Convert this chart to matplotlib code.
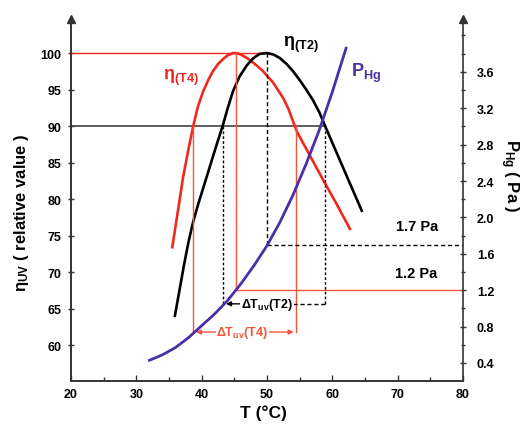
import matplotlib
matplotlib.use("Agg")
import matplotlib.pyplot as plt
from matplotlib.ticker import MultipleLocator

plt.rcParams['font.family'] = ['Liberation Sans', 'DejaVu Sans']
plt.rcParams['mathtext.fontset'] = 'custom'
plt.rcParams['mathtext.rm'] = 'Liberation Sans:bold'
plt.rcParams['mathtext.it'] = 'Liberation Sans:bold'
plt.rcParams['mathtext.bf'] = 'Liberation Sans:bold'

# ---- data ----
t_t4 = [35.5, 36.4, 37.1, 37.9, 38.7, 39.4, 40.2, 41.0, 41.7, 42.5, 43.3, 44.0,
        44.8, 45.3, 46.0, 46.8, 47.6, 48.4, 49.2, 50.0, 50.9, 51.7, 52.5, 53.3,
        54.0, 54.6, 56.6, 58.6, 60.6, 62.7]
eta_t4 = [73.4, 78.6, 82.7, 86.5, 90.0, 92.6, 94.7, 96.3, 97.5, 98.5, 99.2, 99.7,
          100.0, 100.0, 99.8, 99.4, 98.9, 98.3, 97.7, 96.9, 96.0, 94.9, 93.8, 92.3,
          90.6, 89.2, 85.9, 82.6, 79.4, 75.9]

t_t2 = [35.9, 36.6, 37.3, 38.0, 38.7, 39.5, 40.3, 41.2, 42.2, 43.2, 44.0, 44.8,
        45.8, 46.9, 47.9, 48.9, 50.0, 51.0, 52.0, 53.0, 54.0, 55.0, 56.0, 57.0,
        58.0, 58.9, 60.0, 61.5, 63.0, 64.5]
eta_t2 = [64.0, 67.5, 71.0, 74.2, 76.9, 79.4, 81.7, 84.3, 87.2, 90.0, 92.5, 94.8,
          96.8, 98.3, 99.3, 99.9, 100.0, 99.8, 99.3, 98.5, 97.5, 96.3, 95.0, 93.6,
          91.9, 90.0, 87.7, 84.6, 81.5, 78.4]

t_p = [32.0, 34.0, 36.0, 38.0, 40.0, 42.0, 44.0, 46.0, 48.0, 50.0, 52.0, 54.0,
       56.0, 58.0, 60.0, 62.1]
p_hg = [0.43, 0.49, 0.57, 0.68, 0.81, 0.94, 1.09, 1.27, 1.47, 1.69, 1.95, 2.25,
        2.59, 2.96, 3.38, 3.86]

x_ticks = [20, 30, 40, 50, 60, 70, 80]
eta_ticks = [60, 65, 70, 75, 80, 85, 90, 95, 100]
p_ticks = [0.4, 0.8, 1.2, 1.6, 2.0, 2.4, 2.8, 3.2, 3.6]
p_tick_labels = ['0.4', '0.8', '1.2', '1.6', '2.0', '2.4', '2.8', '3.2', '3.6']

# annotation values
t4_lo, t4_hi, t4_peak = 38.7, 54.5, 45.3
t2_lo, t2_hi, t2_peak = 43.3, 58.9, 50.0
p_t4, p_t2 = 1.2, 1.7
p_arrow_t4, p_arrow_t2 = 0.74, 1.05
eta_level, eta_max = 90, 100

RED = '#f0281e'
RED2 = '#f2553a'
BLUE = '#4a2fa8'
AXC = '#333333'

fig = plt.figure(figsize=(5.23, 4.27), dpi=100)
ax = fig.add_axes([0.1358, 0.1054, 0.7495, 0.8476])
ax2 = ax.twinx()

ylo1, yhi1 = 55.07, 104.66
ylo2, yhi2 = 0.202, 4.18
ax.set_xlim(20, 80)
ax.set_ylim(ylo1, yhi1)
ax2.set_ylim(ylo2, yhi2)

def eta_to_p(e):
    return ylo2 + (e - ylo1) * (yhi2 - ylo2) / (yhi1 - ylo1)

# curves
ax.plot(t_t4, eta_t4, color=RED, lw=1.9, zorder=5, solid_joinstyle='round')
ax.plot(t_t2, eta_t2, color='black', lw=1.9, zorder=5, solid_joinstyle='round')
ax2.plot(t_p, p_hg, color=BLUE, lw=2.0, zorder=5, solid_joinstyle='round')

# reference lines
ax.plot([20, 49.5], [eta_max, eta_max], color=RED, lw=1.0)
ax.plot([20, t2_hi], [eta_level, eta_level], color=AXC, lw=1.1)

# red verticals / 1.2 Pa line
ax2.plot([t4_peak, t4_peak], [eta_to_p(eta_max), p_t4], color=RED2, lw=1.0)
ax2.plot([t4_peak, 80], [p_t4, p_t4], color=RED2, lw=1.0)
ax2.plot([t4_lo, t4_lo], [eta_to_p(eta_level), p_arrow_t4], color=RED2, lw=1.0)
ax2.plot([t4_hi, t4_hi], [eta_to_p(eta_level), p_arrow_t4], color=RED2, lw=1.0)

# black dashed / 1.7 Pa line
ax2.plot([t2_peak, t2_peak], [eta_to_p(eta_max), p_t2], color='black', lw=1.0, ls=(0, (3, 2)))
ax2.plot([t2_peak, 80], [p_t2, p_t2], color='black', lw=1.0, ls=(0, (3, 2)))
ax2.plot([t2_lo, t2_lo], [eta_to_p(eta_level), p_arrow_t2], color='black', lw=1.0, ls=(0, (2, 1.5)))
ax2.plot([t2_hi, t2_hi], [eta_to_p(eta_level), p_arrow_t2], color='black', lw=1.0, ls=(0, (2, 1.5)))

# delta T arrows
ax2.annotate('', xy=(t2_lo, p_arrow_t2), xytext=(t2_lo + 3.0, p_arrow_t2),
             arrowprops=dict(arrowstyle='-|>', color='black', lw=1.0, mutation_scale=7))
ax2.plot([54.0, t2_hi], [p_arrow_t2, p_arrow_t2], color='black', lw=1.0, ls=(0, (3, 2)))
ax2.text(50.0, p_arrow_t2, r'$\Delta$T$_{\mathregular{uv}}$(T2)', ha='center', va='center',
         fontsize=9, fontweight='bold', color='black', zorder=6,
         bbox=dict(facecolor='white', edgecolor='none', pad=0.5))

ax2.annotate('', xy=(t4_lo, p_arrow_t4), xytext=(t4_lo + 4.3, p_arrow_t4),
             arrowprops=dict(arrowstyle='-|>', color=RED2, lw=1.0, mutation_scale=7))
ax2.annotate('', xy=(t4_hi, p_arrow_t4), xytext=(t4_hi - 4.8, p_arrow_t4),
             arrowprops=dict(arrowstyle='-|>', color=RED2, lw=1.0, mutation_scale=7))
ax2.text(46.2, p_arrow_t4, r'$\Delta$T$_{\mathregular{uv}}$(T4)', ha='center', va='center',
         fontsize=9, fontweight='bold', color=RED2, zorder=6,
         bbox=dict(facecolor='white', edgecolor='none', pad=0.5))

# labels on curves
ax.text(34.1, 96.7, r'η$_{\mathregular{(T4)}}$', color=RED, fontsize=13, fontweight='bold',
        ha='left', va='center')
ax.text(52.4, 101.3, r'η$_{\mathregular{(T2)}}$', color='black', fontsize=13, fontweight='bold',
        ha='left', va='center')
ax.text(62.8, 97.4, r'P$_{\mathregular{Hg}}$', color=BLUE, fontsize=13, fontweight='bold',
        ha='left', va='center')
ax2.text(73.0, 1.83, '1.7 Pa', fontsize=10.5, fontweight='bold', ha='center', va='bottom')
ax2.text(72.8, 1.31, '1.2 Pa', fontsize=10.5, fontweight='bold', ha='center', va='bottom')

# axes styling
for a in (ax, ax2):
    a.spines['top'].set_visible(False)
    for s in a.spines.values():
        s.set_linewidth(1.2)
        s.set_color(AXC)
ax.spines['right'].set_visible(False)

ax.set_xticks(x_ticks)
ax.xaxis.set_minor_locator(MultipleLocator(5))
ax.set_yticks(eta_ticks)
ax2.set_yticks(p_ticks)
ax2.set_yticklabels(p_tick_labels)
ax2.yaxis.set_minor_locator(MultipleLocator(0.2))
ax.tick_params(axis='x', direction='in', length=4, width=1, labelsize=9, pad=5, color=AXC)
ax.tick_params(axis='x', which='minor', direction='in', length=3, width=1, color=AXC)
ax.tick_params(axis='y', direction='inout', length=4, width=1, labelsize=9, pad=5, color=AXC)
ax2.tick_params(axis='y', direction='inout', length=4, width=1, labelsize=9, pad=8, color=AXC)
ax2.tick_params(axis='y', which='minor', direction='inout', length=3, width=1, color=AXC)
for lab in ax.get_xticklabels() + ax.get_yticklabels() + ax2.get_yticklabels():
    lab.set_fontweight('bold')

# arrows on top of vertical spines
ax.plot([0], [1], marker='^', color=AXC, markersize=5.5, transform=ax.transAxes, clip_on=False)
ax.plot([1], [1], marker='^', color=AXC, markersize=5.5, transform=ax.transAxes, clip_on=False)

# axis labels
fig.text(263 / 523, 1 - 413 / 427, 'T (°C)', ha='center', va='center', fontsize=12.5, fontweight='bold')
fig.text(22 / 523, 1 - 213 / 427, r'η$_{\mathregular{UV}}$ ( relative value )', rotation=90,
         ha='center', va='center', fontsize=12, fontweight='bold')
fig.text(509 / 523, 1 - 176 / 427, r'P$_{\mathregular{Hg}}$ ( Pa )', rotation=270,
         ha='center', va='center', fontsize=12, fontweight='bold')

fig.savefig('out.png', dpi=100)
